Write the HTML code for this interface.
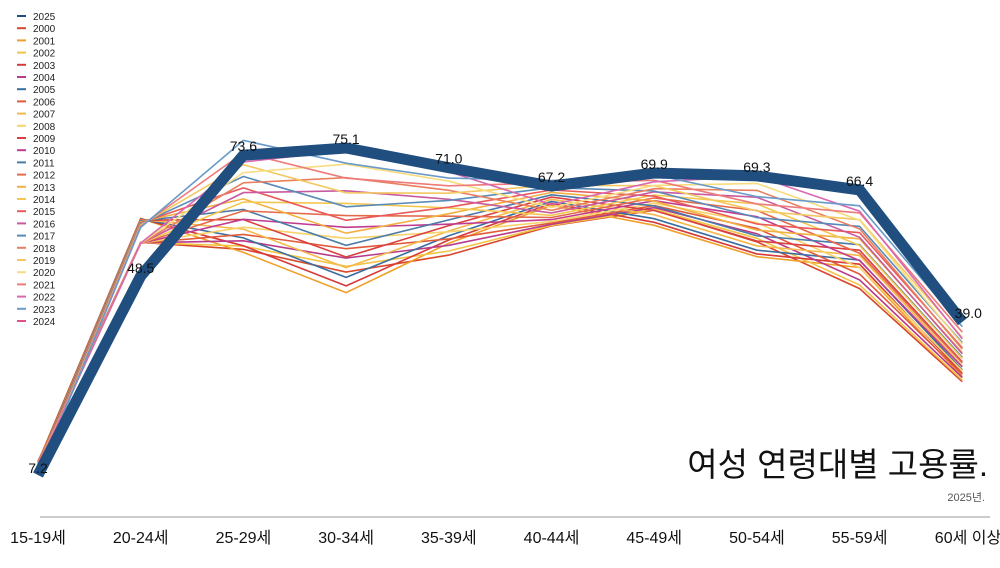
<!DOCTYPE html><html><head><meta charset="utf-8"><style>
body{margin:0;background:#fff;width:1000px;height:563px;overflow:hidden;font-family:"Liberation Sans","Noto Sans CJK KR",sans-serif}
</style></head><body>
<svg id="s" width="1000" height="563" xmlns="http://www.w3.org/2000/svg" font-family="Liberation Sans, Noto Sans CJK KR, sans-serif"></svg>
<script>
var s=document.getElementById('s'),h='';
var xs=[];for(var i=0;i<10;i++)xs.push(38+i*102.7);
function Y(v){return 475-(v-7.2)*4.816;}
var years=['2025','2000','2001','2002','2003','2004','2005','2006','2007','2008','2009','2010','2011','2012','2013','2014','2015','2016','2017','2018','2019','2020','2021','2022','2023','2024'];
var cols=['#1f4e7f','#d9472b','#f0a02a','#f2c443','#d63a3a','#b83a8a','#3a6e9e','#e05a3a','#f5b84a','#f7d36a','#d94040','#c03c90','#4a7aa8','#e46a4a','#f2b040','#f3c850','#ea5a5a','#c85aa0','#5a8ab8','#e88060','#f3c860','#f7dc80','#ee7a7a','#d868b0','#6a9ac8','#e0508a'];
var a=[10,58,53.5,47,54,61,60.5,54,48,27],b=[8,57,75,74,70,66,69,67.5,63,37];
var d25=[7.2,48.5,73.6,75.1,71.0,67.2,69.9,69.3,66.4,39.0];
for(var k=1;k<=24;k++){var t=(k-1)/23,p='';
for(var i=0;i<10;i++){var n=Math.sin(k*3.1+i*1.7)*2.5*(i>0&&i<9?1:0.4);var v=a[i]+(b[i]-a[i])*Math.pow(t,1.3)+n;p+=(i?'L':'M')+xs[i].toFixed(1)+' '+Y(v).toFixed(1);}
h+='<path d="'+p+'" fill="none" stroke="'+cols[k]+'" stroke-width="1.6"/>';}
var p='';for(var i=0;i<10;i++)p+=(i?'L':'M')+xs[i]+' '+Y(d25[i]);
h+='<path d="'+p+'" fill="none" stroke="#1f4e7f" stroke-width="11" stroke-linejoin="miter"/>';
var lab=['7.2','48.5','73.6','75.1','71.0','67.2','69.9','69.3','66.4','39.0'];
for(var i=0;i<10;i++)h+='<text x="'+(xs[i]+(i==9?6:0))+'" y="'+(Y(d25[i])-(i==0?2:(i==1?3:4)))+'" font-size="14" text-anchor="middle" fill="#111">'+lab[i]+'</text>';
for(var k=0;k<26;k++){var y=20+k*12.2;h+='<line x1="17" y1="'+(y-4)+'" x2="26" y2="'+(y-4)+'" stroke="'+cols[k]+'" stroke-width="2"/><text x="33" y="'+y+'" font-size="10" fill="#222">'+years[k]+'</text>';}
h+='<text x="988" y="476" font-size="33" text-anchor="end" fill="#111">여성 연령대별 고용률.</text>';
h+='<text x="985" y="501" font-size="11" text-anchor="end" fill="#555">2025년.</text>';
h+='<line x1="40" y1="517" x2="990" y2="517" stroke="#999" stroke-width="1"/>';
var xl=['15-19세','20-24세','25-29세','30-34세','35-39세','40-44세','45-49세','50-54세','55-59세','60세 이상'];
for(var i=0;i<10;i++)h+='<text x="'+(i==9?968:xs[i])+'" y="543" font-size="16" text-anchor="middle" fill="#111">'+xl[i]+'</text>';
s.innerHTML=h;
</script></body></html>
